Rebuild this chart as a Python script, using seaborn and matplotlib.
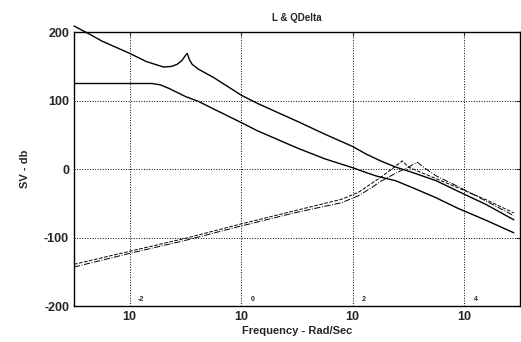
import numpy as np
import pandas as pd
import matplotlib
matplotlib.use("Agg")
import matplotlib.pyplot as plt
import seaborn as sns

# Valores (log10 de la frecuencia, SV en dB)
logw_sup = [-3, -2.72, -2.5, -2.0, -1.7, -1.39, -1.25, -1.15, -1.07, -1.0, -0.97,
            -0.93, -0.88, -0.77, -0.5, -0.25, 0, 0.29, 1.0, 1.5, 2.0, 2.24, 2.5,
            2.77, 3.04, 3.5, 3.88, 4.4, 4.89]
sv_sup = [209, 197, 187, 169, 157, 149, 150, 153, 158, 166, 169,
          160, 153, 146, 134, 121, 108, 96, 70, 51, 33, 22, 12,
          3, -4, -17, -32, -52, -74]

logw_inf = [-3, -2, -1.6, -1.45, -1.3, -1.2, -1.0, -0.77, -0.5, 0, 0.29, 1.0, 1.5,
            2.0, 2.24, 2.42, 2.77, 3.1, 3.5, 3.88, 4.4, 4.89]
sv_inf = [125, 125, 125, 123, 118, 114, 106, 99, 88, 68, 56, 31, 15,
          2, -5, -10, -17, -28, -42, -57, -75, -93]

logw_qa = [-3, -2, -1, 0, 1, 1.8, 2.1, 2.3, 2.5, 2.7, 2.89, 3.0, 3.2, 3.5, 3.88, 4.4, 4.89]
sv_qa = [-139, -120, -101, -80, -60, -44, -34, -23, -12, 0, 12, 3, -4, -14, -27, -45, -64]

logw_qb = [-3, -2, -1, 0, 1, 1.8, 2.1, 2.3, 2.5, 2.77, 3.0, 3.16, 3.3, 3.5, 3.88, 4.4, 4.89]
sv_qb = [-143, -123, -104, -83, -63, -49, -39, -29, -18, -6, 3, 10, 1, -10, -25, -47, -68]

xticks = [1e-2, 1e0, 1e2, 1e4]
xtick_exp = ['-2', '0', '2', '4']
yticks = [-200, -100, 0, 100, 200]

sns.set_style("white")
plt.rcParams['font.family'] = ['Liberation Sans', 'DejaVu Sans']
plt.rcParams['font.weight'] = 'bold'
plt.rcParams['axes.unicode_minus'] = False

fig = plt.figure(figsize=(5.21, 3.42), dpi=100)
ax = fig.add_axes([0.142, 0.105, 0.856, 0.801])

curvas = [(logw_sup, sv_sup, '-', 1.0, False),
          (logw_inf, sv_inf, '-', 1.0, True),
          (logw_qa, sv_qa, '--', 0.7, True),
          (logw_qb, sv_qb, '-.', 0.7, True)]
for lw_, sv, estilo, ancho, clip in curvas:
    df = pd.DataFrame({'w': 10.0 ** np.array(lw_), 'sv': sv})
    sns.lineplot(data=df, x='w', y='sv', ax=ax, color='black',
                 linestyle=estilo, linewidth=ancho, clip_on=clip)

ax.set_xscale('log')
ax.set_xlim(1e-3, 1e5)
ax.set_ylim(-200, 200)
ax.set_xticks(xticks)
ax.set_xticklabels(['10'] * len(xticks))
ax.minorticks_off()
ax.set_yticks(yticks)
ax.tick_params(direction='in', length=3, labelsize=9, top=True, right=True,
               width=0.8)
for e, w in zip(xtick_exp, xticks):
    ax.text(w * 10 ** 0.2, -195, e, fontsize=5, fontweight='bold',
            ha='center', va='bottom')

ax.grid(True, linestyle=':', color='black', linewidth=0.7)
for s in ax.spines.values():
    s.set_color('black')
    s.set_linewidth(1.0)

ax.set_title('L & QDelta', fontsize=7, fontweight='bold', pad=8)
ax.set_xlabel('Frequency - Rad/Sec', fontsize=8, fontweight='bold', labelpad=2)
ax.set_ylabel('SV - db', fontsize=8, fontweight='bold', labelpad=10)

fig.savefig('out.png', dpi=100)
